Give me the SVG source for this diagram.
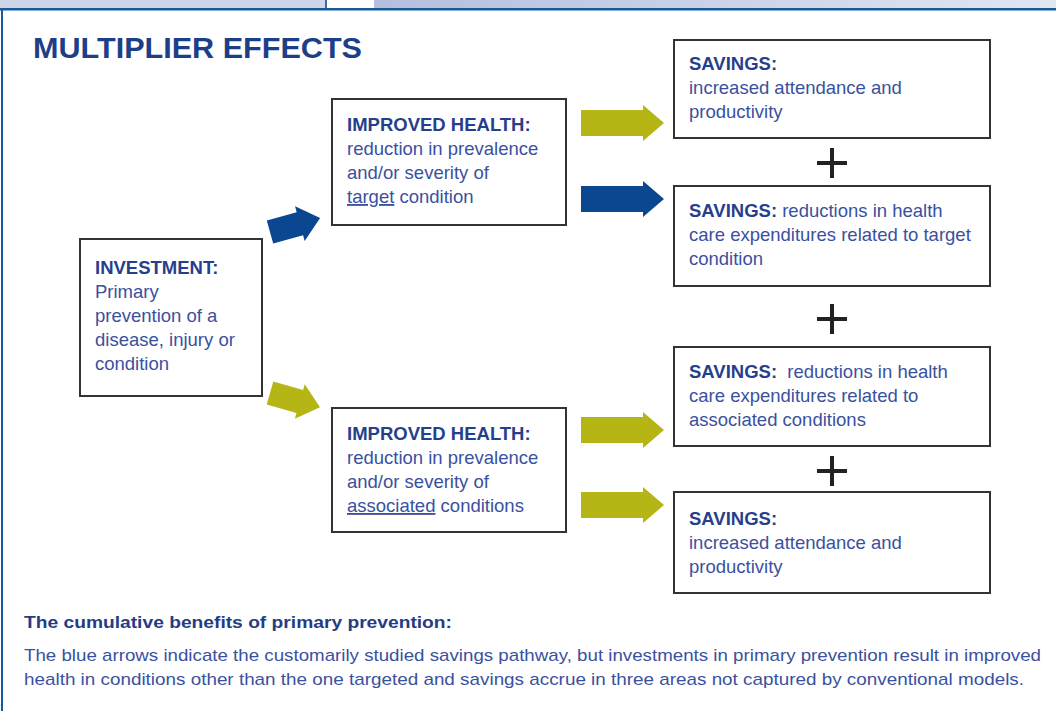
<svg xmlns="http://www.w3.org/2000/svg" width="1056" height="711" viewBox="0 0 1056 711">
  <defs>
    <linearGradient id="topgrad" x1="0" y1="0" x2="1" y2="0">
      <stop offset="0" stop-color="#b4bfde"/>
      <stop offset="1" stop-color="#e2e6f1"/>
    </linearGradient>
    <path id="harrow" d="M0,-13 H62 V-18 L83,0 L62,18 V13 H0 Z"/>
    <path id="darrow" d="M0,-12 H31 V-18 L52,0 L31,18 V12 H0 Z"/>
    <path id="plus" d="M-15,-2 H15 V2 H-15 Z M-2,-15 H2 V15 H-2 Z"/>
  </defs>
  <style>
    .box { fill: #ffffff; stroke: #333333; stroke-width: 2; }
    .hd { font-family: "Liberation Sans", Arial, sans-serif; font-weight: bold; font-size: 18.5px; fill: #263f8c; }
    .tx { font-family: "Liberation Sans", Arial, sans-serif; font-size: 18.5px; fill: #3a51a0; }
    .title { font-family: "Liberation Sans", Arial, sans-serif; font-weight: bold; font-size: 29px; fill: #1d3f87; }
    .fh { font-family: "Liberation Sans", Arial, sans-serif; font-weight: bold; font-size: 17px; fill: #253c84; }
    .ft { font-family: "Liberation Sans", Arial, sans-serif; font-size: 17px; fill: #3a51a0; }
    .u { text-decoration: underline; }
    .blue { fill: #0b4791; }
    .yel { fill: #b6b516; }
    .plus { fill: #222222; }
  </style>

  <rect width="1056" height="711" fill="#ffffff"/>
  <!-- top strip -->
  <rect x="0" y="0" width="326" height="9" fill="#d0d6ea"/>
  <rect x="374" y="0" width="682" height="9" fill="url(#topgrad)"/>
  <rect x="325" y="0" width="2" height="10" fill="#3d6aa8"/>
  <rect x="0" y="8" width="1056" height="2.5" fill="#165a9e"/>
  <rect x="1" y="9" width="2" height="702" fill="#165a9e"/>

  <text class="title" x="33" y="58" textLength="329" lengthAdjust="spacingAndGlyphs">MULTIPLIER EFFECTS</text>

  <g id="investment">
    <rect class="box" x="80" y="239" width="182" height="157"/>
    <text class="hd" x="95" y="274">INVESTMENT:</text>
    <text class="tx" x="95" y="298">Primary</text>
    <text class="tx" x="95" y="322">prevention of a</text>
    <text class="tx" x="95" y="346">disease, injury or</text>
    <text class="tx" x="95" y="370">condition</text>
  </g>

  <g id="health-target">
    <rect class="box" x="332" y="99" width="234" height="126"/>
    <text class="hd" x="347" y="131">IMPROVED HEALTH:</text>
    <text class="tx" x="347" y="155">reduction in prevalence</text>
    <text class="tx" x="347" y="179">and/or severity of</text>
    <text class="tx" x="347" y="203"><tspan class="u">target</tspan> condition</text>
  </g>

  <g id="health-associated">
    <rect class="box" x="332" y="408" width="234" height="124"/>
    <text class="hd" x="347" y="440">IMPROVED HEALTH:</text>
    <text class="tx" x="347" y="464">reduction in prevalence</text>
    <text class="tx" x="347" y="488">and/or severity of</text>
    <text class="tx" x="347" y="512"><tspan class="u">associated</tspan> conditions</text>
  </g>

  <g id="savings-1">
    <rect class="box" x="674" y="40" width="316" height="98"/>
    <text class="hd" x="689" y="70">SAVINGS:</text>
    <text class="tx" x="689" y="94">increased attendance and</text>
    <text class="tx" x="689" y="118">productivity</text>
  </g>

  <g id="savings-2">
    <rect class="box" x="674" y="186" width="316" height="100"/>
    <text x="689" y="217"><tspan class="hd">SAVINGS:</tspan><tspan class="tx"> reductions in health</tspan></text>
    <text class="tx" x="689" y="241">care expenditures related to target</text>
    <text class="tx" x="689" y="265">condition</text>
  </g>

  <g id="savings-3">
    <rect class="box" x="674" y="347" width="316" height="99"/>
    <text x="689" y="378" xml:space="preserve"><tspan class="hd">SAVINGS:</tspan><tspan class="tx">  reductions in health</tspan></text>
    <text class="tx" x="689" y="402">care expenditures related to</text>
    <text class="tx" x="689" y="426">associated conditions</text>
  </g>

  <g id="savings-4">
    <rect class="box" x="674" y="492" width="316" height="101"/>
    <text class="hd" x="689" y="525">SAVINGS:</text>
    <text class="tx" x="689" y="549">increased attendance and</text>
    <text class="tx" x="689" y="573">productivity</text>
  </g>

  <g id="connectors">
    <use href="#darrow" class="blue" transform="translate(270,232) rotate(-15.5)"/>
    <use href="#darrow" class="yel" transform="translate(270,393) rotate(16)"/>
    <use href="#harrow" class="yel" transform="translate(581,123)"/>
    <use href="#harrow" class="blue" transform="translate(581,199)"/>
    <use href="#harrow" class="yel" transform="translate(581,430)"/>
    <use href="#harrow" class="yel" transform="translate(581,505)"/>
    <use href="#plus" class="plus" transform="translate(832,163)"/>
    <use href="#plus" class="plus" transform="translate(832,319)"/>
    <use href="#plus" class="plus" transform="translate(832,471)"/>
  </g>

  <text class="fh" x="24" y="628" textLength="428" lengthAdjust="spacingAndGlyphs">The cumulative benefits of primary prevention:</text>
  <text class="ft" x="24" y="661" textLength="1017" lengthAdjust="spacingAndGlyphs">The blue arrows indicate the customarily studied savings pathway, but investments in primary prevention result in improved</text>
  <text class="ft" x="24" y="685" textLength="1000" lengthAdjust="spacingAndGlyphs">health in conditions other than the one targeted and savings accrue in three areas not captured by conventional models.</text>
</svg>
